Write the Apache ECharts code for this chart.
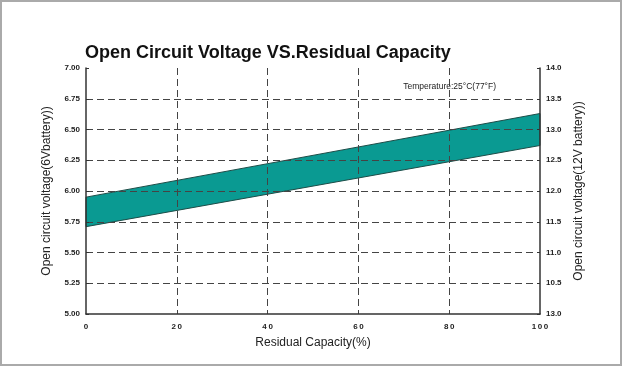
<!DOCTYPE html>
<html>
<head>
<meta charset="utf-8">
<script src="https://cdn.jsdelivr.net/npm/echarts@6/dist/echarts.min.js"></script>
<style>
html,body{margin:0;padding:0;background:#fff;}
#c{width:625px;height:368px;}
</style>
</head>
<body>
<div id="c"></div>
<script>
// Data
var capacity = [0, 100];
var upperVoltage = [5.95, 6.63];
var lowerVoltage = [5.71, 6.37];
var xTicks = [0, 20, 40, 60, 80, 100];
var leftTicks = ['5.00','5.25','5.50','5.75','6.00','6.25','6.50','6.75','7.00'];
var rightTicks = ['13.0','10.5','11.0','11.5','12.0','12.5','13.0','13.5','14.0'];
var titleText = 'Open Circuit Voltage VS.Residual Capacity';
var noteText = 'Temperature:25\u00B0C(77\u00B0F)';

var chart = echarts.init(document.getElementById('c'));
var axisLine = {show:true, lineStyle:{color:'#333', width:1.5}};
var labelStyle = {color:'#222', fontSize:8, fontWeight:'bold', fontFamily:'Liberation Sans'};
var dash = {show:true, lineStyle:{color:'#444', type:[7,4], width:1}, showMinLine:false, showMaxLine:false};

chart.setOption({
  animation:false,
  backgroundColor:'#fff',
  title:{
    text:titleText, left:80, top:39,
    textStyle:{fontFamily:'Liberation Sans', fontWeight:'bold', fontSize:18, color:'#111'}
  },
  graphic:[
    {type:'rect', shape:{x:1,y:1,width:620,height:364}, style:{fill:'none', stroke:'#aaa', lineWidth:2}, silent:true}
  ],
  grid:{left:86, right:85, top:68, bottom:54},
  xAxis:{
    type:'value', min:0, max:100, interval:20,
    axisLine:axisLine, axisTick:{show:false},
    axisLabel:Object.assign({margin:9, formatter:function(v){return String(v).split('').join('\u2009');}}, labelStyle),
    splitLine:dash,
    name:'Residual Capacity(%)', nameLocation:'middle', nameGap:23,
    nameTextStyle:{fontFamily:'Liberation Sans', fontSize:12, color:'#222'}
  },
  yAxis:[
    {
      type:'value', min:5, max:7, interval:0.25, position:'left',
      axisLine:axisLine, axisTick:{show:true, inside:true, length:3, lineStyle:{color:'#333'}},
      axisLabel:Object.assign({margin:6, formatter:function(v){return leftTicks[Math.round((v-5)/0.25)];}}, labelStyle),
      splitLine:dash,
      name:'Open circuit voltage(6Vbattery))', nameLocation:'middle', nameGap:33,
      nameTextStyle:{fontFamily:'Liberation Sans', fontSize:12, color:'#222'}
    },
    {
      type:'value', min:10, max:14, interval:0.5, position:'right',
      axisLine:axisLine, axisTick:{show:true, inside:true, length:3, lineStyle:{color:'#333'}},
      axisLabel:Object.assign({margin:6, formatter:function(v){return rightTicks[Math.round((v-10)/0.5)];}}, labelStyle),
      splitLine:{show:false},
      name:'Open circuit voltage(12V battery))', nameLocation:'middle', nameGap:33, nameRotate:90,
      nameTextStyle:{fontFamily:'Liberation Sans', fontSize:12, color:'#222'}
    }
  ],
  series:[
    {
      type:'custom', z:-1, xAxisIndex:0, yAxisIndex:0,
      data:[[0,0]],
      renderItem:function(params, api){
        var pts = [];
        for (var i=0;i<capacity.length;i++) pts.push(api.coord([capacity[i], upperVoltage[i]]));
        for (var j=capacity.length-1;j>=0;j--) pts.push(api.coord([capacity[j], lowerVoltage[j]]));
        return {type:'polygon', shape:{points:pts}, style:{fill:'#0a9a92', stroke:'#1d4d48', lineWidth:1}};
      },
      silent:true
    },
    {
      type:'scatter', data:[],
      markPoint:{
        symbol:'rect', symbolSize:0,
        label:{show:true, formatter:noteText, color:'#222', fontSize:8.5, fontFamily:'Liberation Sans'},
        data:[{coord:[80.1, 6.85]}]
      }
    }
  ]
});
</script>
</body>
</html>
